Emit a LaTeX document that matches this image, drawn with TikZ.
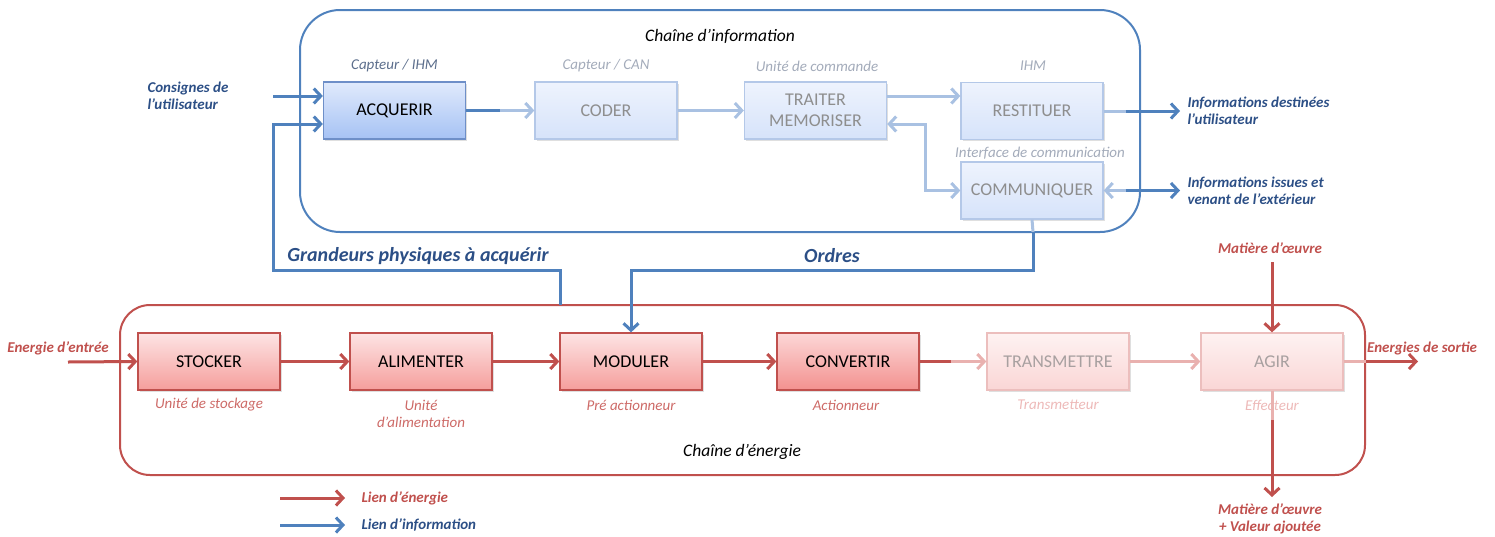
\documentclass[tikz,border=0pt]{standalone}
\usepackage{fontspec}
\setmainfont{Carlito}
\usetikzlibrary{arrows.meta,shadows}
\definecolor{iblue}{HTML}{4F81BD}
\definecolor{itext}{HTML}{2C4F86}
\definecolor{lblue}{HTML}{A9C1E2}
\definecolor{ered}{HTML}{C0504D}
\definecolor{lred}{HTML}{E9B1AF}
\definecolor{ftext}{HTML}{8E8E8E}
\definecolor{fetext}{HTML}{A8A0A0}
\definecolor{toplab}{HTML}{5C6E8C}
\definecolor{ftoplab}{HTML}{A3ABBA}
\definecolor{subred}{HTML}{CD6A67}
\definecolor{fsubred}{HTML}{EDB9B8}
\tikzset{
  tip/.tip={Straight Barb[length=7pt,width=15pt]},
  blk/.style={minimum width=142pt, minimum height=57pt, inner sep=0pt, align=center,
    font=\fontsize{18}{20}\selectfont, line width=1.3pt,
    drop shadow={shadow xshift=1.5pt, shadow yshift=-1.5pt, opacity=0.25}},
  abox/.style={blk, top color={rgb,255:red,224;green,234;blue,252}, bottom color={rgb,255:red,166;green,194;blue,244}, draw={rgb,255:red,110;green,143;blue,200}, text=black},
  fbox/.style={blk, top color={rgb,255:red,238;green,243;blue,253}, bottom color={rgb,255:red,214;green,227;blue,250}, draw={rgb,255:red,180;green,200;blue,232}, text=ftext},
  ebox/.style={blk, top color={rgb,255:red,253;green,228;blue,228}, bottom color={rgb,255:red,245;green,158;blue,156}, draw=ered, text=black},
  febox/.style={blk, top color={rgb,255:red,254;green,242;blue,242}, bottom color={rgb,255:red,250;green,214;blue,213}, draw={rgb,255:red,236;green,190;blue,189}, text=fetext},
  iline/.style={iblue, line width=3pt},
  lline/.style={lblue, line width=3pt},
  eline/.style={ered, line width=3pt},
  flline/.style={lred, line width=3pt},
  iarr/.style={iline, -tip},
  larr/.style={lline, -tip},
  earr/.style={eline, -tip},
  flarr/.style={flline, -tip},
  toplabel/.style={font=\fontsize{15}{17}\selectfont\itshape, text=ftoplab},
  sublabel/.style={font=\fontsize{15}{17}\selectfont\itshape, text=subred, align=center},
  bluelab/.style={font=\fontsize{15}{17}\selectfont\bfseries\itshape, text=itext, align=left},
  redlab/.style={font=\fontsize{15}{17}\selectfont\bfseries\itshape, text=ered, align=center},
  title/.style={font=\fontsize{17.5}{20}\selectfont\itshape, text=black},
  biglab/.style={font=\fontsize{20}{22}\selectfont\bfseries\itshape, text=itext},
}
\begin{document}
\begin{tikzpicture}[x=1pt,y=-1pt]
\useasboundingbox (0,0) rectangle (1495,536);

% chain frames
\draw[iblue, line width=2pt, rounded corners=40pt] (300,10) rectangle (1140,232);
\draw[ered, line width=2pt, rounded corners=30pt] (120,305) rectangle (1365,475);
\node[title] (tinfo) at (720,36) {Chaîne d’information};
\node[title] (tener) at (742,452) {Chaîne d’énergie};

% information chain blocks
\node[abox] (ACQ) at (394.5,110.5) {ACQUERIR};
\node[fbox] (COD) at (606,110.5) {CODER};
\node[fbox] (TRA) at (815.5,110.5) {TRAITER\\[1pt]MEMORISER};
\node[fbox] (RES) at (1032,111) {RESTITUER};
\node[fbox] (COM) at (1032,190.5) {COMMUNIQUER};

\node[toplabel, text=toplab] (lacq) at (394.5,66) {Capteur / IHM};
\node[toplabel] (lcod) at (606,66) {Capteur / CAN};
\node[toplabel] (ltra) at (817,66) {Unité de commande};
\node[toplabel] (lres) at (1033,66) {IHM};
\node[toplabel] (lcom) at (1040,153) {Interface de communication};

% energy chain blocks
\node[ebox] (STO) at (209,361.5) {STOCKER};
\node[ebox] (ALI) at (421,361.5) {ALIMENTER};
\node[ebox] (MOD) at (631,361.5) {MODULER};
\node[ebox, top color={rgb,255:red,252;green,215;blue,215}, bottom color={rgb,255:red,243;green,145;blue,143}] (CNV) at (848,361.5) {CONVERTIR};
\node[febox] (TRS) at (1058,361.5) {TRANSMETTRE};
\node[febox] (AGI) at (1272,361.5) {AGIR};

\node[sublabel] (lsto) at (209,405) {Unité de stockage};
\node[sublabel] (lali) at (421,413.5) {Unité\\d’alimentation};
\node[sublabel] (lmod) at (631,405) {Pré actionneur};
\node[sublabel] (lcnv) at (846,405) {Actionneur};
\node[sublabel, text=fsubred] (ltrs) at (1058,405) {Transmetteur};
\node[sublabel, text=fsubred] (lagi) at (1272,405) {Effecteur};

% information links
\coordinate (cin) at (273,96);
\node[bluelab, anchor=west] (lcons) at (144,96) {Consignes de\\l’utilisateur};
\draw[iarr] (cin) -- (cin -| ACQ.west);

\coordinate (gp) at (560,305);
\draw[iarr] (gp) -- (560,270) -- (273,270) |- ([yshift=-13.5pt]ACQ.west);
\node[biglab] (lgp) at (418,256) {Grandeurs physiques à acquérir};

\draw[iline] (ACQ.east) -- ([xshift=34pt]ACQ.east);
\draw[larr] ([xshift=34pt]ACQ.east) -- (COD.west);
\draw[larr] (COD.east) -- (TRA.west);
\draw[larr] ([yshift=14.5pt]TRA.east) -- ([yshift=14.5pt]TRA.east -| RES.west);
\draw[lline, tip-tip] ([yshift=-13.5pt]TRA.east) -- (925,124) |- (COM.west);

\coordinate (rout) at (1180,111);
\draw[lline] (RES.east) -- ([xshift=22pt]RES.east);
\draw[iarr] ([xshift=22pt]RES.east) -- (rout);
\node[bluelab, anchor=west] (lrout) at (1184,111) {Informations destinées\\l’utilisateur};

\coordinate (cout) at (1180,190.5);
\draw[lline, tip-] (COM.east) -- ([xshift=22pt]COM.east);
\draw[iarr] ([xshift=22pt]COM.east) -- (cout);
\node[bluelab, anchor=west] (lcout) at (1184,190.5) {Informations issues et\\venant de l’extérieur};

\draw[lline] (COM.south) -- (1033,232);
\draw[iarr] (1033,232) -- (1033,270) -| (MOD.north);
\node[biglab] (lord) at (832,256) {Ordres};

% energy links
\coordinate (ein) at (68,362);
\node[redlab] (lein) at (58,348) {Energie d’entrée};
\draw[earr] (ein) -- (STO.west);
\draw[earr] (STO.east) -- (ALI.west);
\draw[earr] (ALI.east) -- (MOD.west);
\draw[earr] (MOD.east) -- (CNV.west);
\draw[eline] (CNV.east) -- ([xshift=31pt]CNV.east);
\draw[flarr] ([xshift=31pt]CNV.east) -- (TRS.west);
\draw[flarr] (TRS.east) -- (AGI.west);
\coordinate (eout) at (1418,361.5);
\draw[flline] (AGI.east) -- (1366,361.5);
\draw[earr] (1366,361.5) -- (eout);
\node[redlab] (leout) at (1422,348) {Energies de sortie};

\coordinate (mtop) at (1272,262);
\node[redlab] (lmtop) at (1270,248) {Matière d’œuvre};
\draw[earr] (mtop) -- (AGI.north);
\coordinate (mbot) at (1272,497);
\draw[flline] (AGI.south) -- (1272,420);
\draw[earr] (1272,420) -- (mbot);
\node[redlab] (lmbot) at (1270,518.5) {Matière d’œuvre\\+ Valeur ajoutée};

% legend
\coordinate (le1) at (280,498);
\coordinate (le2) at (345,498);
\coordinate (li1) at (280,525);
\coordinate (li2) at (345,525);
\draw[earr] (le1) -- (le2);
\draw[iarr] (li1) -- (li2);
\node[redlab, anchor=west] (lle) at (358,498) {Lien d’énergie};
\node[bluelab, anchor=west] (lli) at (358,525) {Lien d’information};
\end{tikzpicture}
\end{document}
